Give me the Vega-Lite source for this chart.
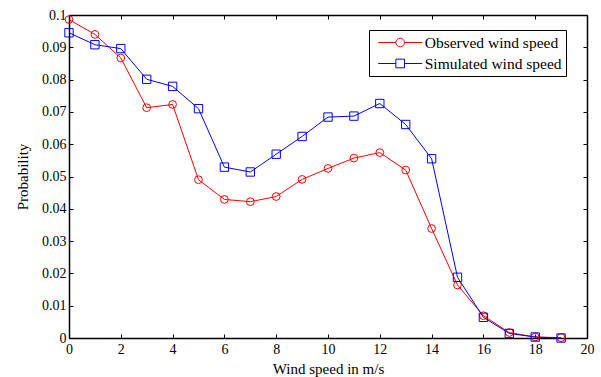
{
  "$schema": "https://vega.github.io/schema/vega-lite/v6.json",
  "width": 518,
  "height": 323,
  "autosize": "none",
  "padding": {"left": 69, "top": 15, "right": 14, "bottom": 39},
  "background": "white",
  "config": {
    "view": {"stroke": null},
    "font": "Liberation Serif",
    "axis": {
      "grid": false,
      "domainColor": "black",
      "domainWidth": 1.5,
      "tickColor": "black",
      "tickSize": -4,
      "tickWidth": 1,
      "labelColor": "black",
      "labelFont": "Liberation Serif",
      "labelFontSize": 14,
      "labelFlush": false,
      "labelOverlap": false,
      "titleFont": "Liberation Serif",
      "titleFontSize": 15,
      "titleFontWeight": "normal",
      "titleColor": "black"
    },
    "legend": {
      "title": null,
      "orient": "none",
      "legendX": 300,
      "legendY": 15,
      "padding": 4,
      "strokeColor": "black",
      "fillColor": "white",
      "symbolSize": 256,
      "symbolStrokeWidth": 1,
      "symbolOpacity": 1,
      "symbolOffset": 18.7,
      "labelOffset": 16,
      "rowPadding": 4,
      "labelFont": "Liberation Serif",
      "labelFontSize": 15.5,
      "labelColor": "black",
      "labelLimit": 300
    }
  },
  "data": {
    "values": [
      {"speed": 0, "series": "Observed wind speed", "p": 0.0986},
      {"speed": 1, "series": "Observed wind speed", "p": 0.0940},
      {"speed": 2, "series": "Observed wind speed", "p": 0.0867},
      {"speed": 3, "series": "Observed wind speed", "p": 0.0713},
      {"speed": 4, "series": "Observed wind speed", "p": 0.0723},
      {"speed": 5, "series": "Observed wind speed", "p": 0.0490},
      {"speed": 6, "series": "Observed wind speed", "p": 0.0429},
      {"speed": 7, "series": "Observed wind speed", "p": 0.0422},
      {"speed": 8, "series": "Observed wind speed", "p": 0.0438},
      {"speed": 9, "series": "Observed wind speed", "p": 0.0491},
      {"speed": 10, "series": "Observed wind speed", "p": 0.0525},
      {"speed": 11, "series": "Observed wind speed", "p": 0.0557},
      {"speed": 12, "series": "Observed wind speed", "p": 0.0574},
      {"speed": 13, "series": "Observed wind speed", "p": 0.0520},
      {"speed": 14, "series": "Observed wind speed", "p": 0.0339},
      {"speed": 15, "series": "Observed wind speed", "p": 0.0164},
      {"speed": 16, "series": "Observed wind speed", "p": 0.0069},
      {"speed": 17, "series": "Observed wind speed", "p": 0.0017},
      {"speed": 18, "series": "Observed wind speed", "p": 0.0003},
      {"speed": 19, "series": "Observed wind speed", "p": 0.0001},
      {"speed": 0, "series": "Simulated wind speed", "p": 0.0945},
      {"speed": 1, "series": "Simulated wind speed", "p": 0.0908},
      {"speed": 2, "series": "Simulated wind speed", "p": 0.0896},
      {"speed": 3, "series": "Simulated wind speed", "p": 0.0801},
      {"speed": 4, "series": "Simulated wind speed", "p": 0.0779},
      {"speed": 5, "series": "Simulated wind speed", "p": 0.0710},
      {"speed": 6, "series": "Simulated wind speed", "p": 0.0529},
      {"speed": 7, "series": "Simulated wind speed", "p": 0.0514},
      {"speed": 8, "series": "Simulated wind speed", "p": 0.0569},
      {"speed": 9, "series": "Simulated wind speed", "p": 0.0624},
      {"speed": 10, "series": "Simulated wind speed", "p": 0.0684},
      {"speed": 11, "series": "Simulated wind speed", "p": 0.0687},
      {"speed": 12, "series": "Simulated wind speed", "p": 0.0726},
      {"speed": 13, "series": "Simulated wind speed", "p": 0.0661},
      {"speed": 14, "series": "Simulated wind speed", "p": 0.0555},
      {"speed": 15, "series": "Simulated wind speed", "p": 0.0188},
      {"speed": 16, "series": "Simulated wind speed", "p": 0.0064},
      {"speed": 17, "series": "Simulated wind speed", "p": 0.0014},
      {"speed": 18, "series": "Simulated wind speed", "p": 0.0003},
      {"speed": 19, "series": "Simulated wind speed", "p": 0.0000}
    ]
  },
  "layer": [
    {
      "mark": {"type": "line", "strokeWidth": 1, "clip": false},
      "encoding": {
        "x": {"field": "speed", "type": "quantitative", "scale": {"domain": [0, 20], "nice": false, "zero": false},
              "axis": {"orient": "bottom", "values": [0,2,4,6,8,10,12,14,16,18,20], "title": "Wind speed in m/s", "labelPadding": 8, "titlePadding": 5}},
        "y": {"field": "p", "type": "quantitative", "scale": {"domain": [0, 0.1], "nice": false},
              "axis": {"orient": "left", "values": [0,0.01,0.02,0.03,0.04,0.05,0.06,0.07,0.08,0.09,0.1], "format": "~g", "title": "Probability", "labelPadding": 7, "titlePadding": 11}},
        "color": {"field": "series", "type": "nominal",
                  "scale": {"domain": ["Observed wind speed", "Simulated wind speed"], "range": ["#ff0000", "#0000ff"]}}
      }
    },
    {
      "transform": [{"filter": "datum.series === 'Observed wind speed'"}],
      "mark": {"type": "point", "shape": "circle", "filled": false, "size": 60, "strokeWidth": 1, "color": "#ff0000", "opacity": 1, "clip": false},
      "encoding": {
        "x": {"field": "speed", "type": "quantitative", "axis": null},
        "y": {"field": "p", "type": "quantitative", "axis": null}
      }
    },
    {
      "transform": [{"filter": "datum.series === 'Simulated wind speed'"}],
      "mark": {"type": "point", "shape": "square", "filled": false, "size": 70, "strokeWidth": 1, "color": "#0000ff", "opacity": 1, "clip": false},
      "encoding": {
        "x": {"field": "speed", "type": "quantitative", "axis": null},
        "y": {"field": "p", "type": "quantitative", "axis": null}
      }
    },
    {
      "mark": {"type": "point", "filled": false, "size": 0, "strokeWidth": 1},
      "encoding": {
        "x": {"field": "speed", "type": "quantitative",
              "axis": {"orient": "top", "values": [0,2,4,6,8,10,12,14,16,18,20], "labels": false, "title": null}},
        "y": {"field": "p", "type": "quantitative",
              "axis": {"orient": "right", "values": [0,0.01,0.02,0.03,0.04,0.05,0.06,0.07,0.08,0.09,0.1], "labels": false, "title": null}},
        "color": {"field": "series", "type": "nominal"},
        "shape": {"field": "series", "type": "nominal",
                  "scale": {"domain": ["Observed wind speed", "Simulated wind speed"],
                            "range": ["M-2.75,0H-0.54M0.54,0H2.75M-0.54,0A0.54,0.54 0 1,1 0.54,0A0.54,0.54 0 1,1 -0.54,0Z",
                                      "M-2.75,0H-0.54M0.54,0H2.75M-0.54,-0.54H0.54V0.54H-0.54Z"]}}
      }
    }
  ],
  "resolve": {"axis": {"x": "independent", "y": "independent"}}
}
